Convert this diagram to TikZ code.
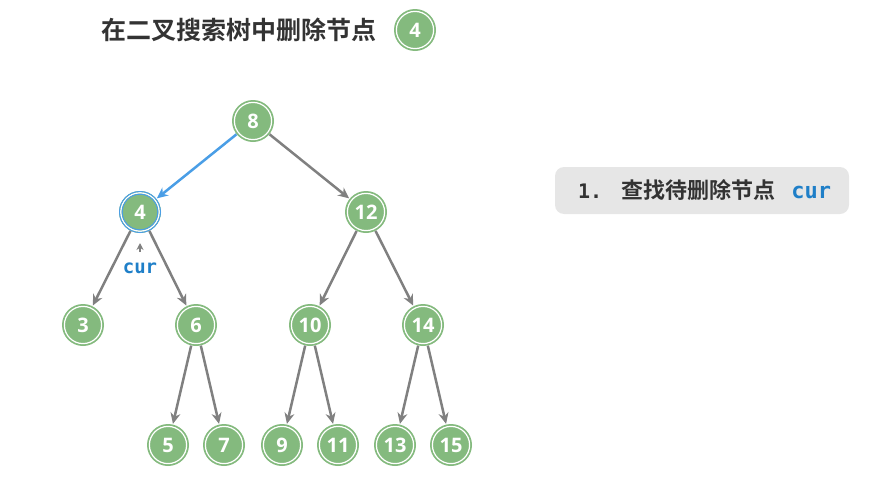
\documentclass[tikz,border=0pt]{standalone}
\usepackage{fontspec}
\setmainfont{Open Sans}
\newfontfamily\cjk{Noto Sans CJK SC}[BoldFont={* Bold}]
\newfontfamily\monob{DejaVu Sans Mono}
\usetikzlibrary{arrows.meta}
\definecolor{ngreen}{HTML}{84BA7E}
\definecolor{nblue}{HTML}{4A9EE6}
\definecolor{curblue}{HTML}{1F7FC8}
\definecolor{egray}{HTML}{808080}
\definecolor{boxgray}{HTML}{E6E6E6}
\definecolor{txtdark}{HTML}{333333}
\tikzset{
  tn/.style={circle, minimum size=42pt, inner sep=0pt, fill=ngreen, text=white,
    font=\bfseries\fontsize{20}{20}\selectfont,
    path picture={\draw[white,line width=1.2pt] (path picture bounding box.center) circle (18.6pt);}},
  hl/.style={tn, path picture={
      \draw[white,line width=1.4pt] (path picture bounding box.center) circle (19.2pt);
      \draw[nblue,line width=1pt] (path picture bounding box.center) circle (17.8pt);
      \draw[nblue,line width=1.6pt] (path picture bounding box.center) circle (20.8pt);}},
  edge/.style={draw=egray, line width=2.5pt, -{Stealth[length=11pt,width=10pt]}, shorten >=0.5pt},
  bedge/.style={edge, draw=nblue},
}
\begin{document}
\begin{tikzpicture}[x=1pt,y=-1pt]
\useasboundingbox (0,0) rectangle (889,482);
% title
\node[anchor=west, text=txtdark, font=\cjk\bfseries\fontsize{25}{25}\selectfont, inner sep=0pt] (title) at (101,30) {在二叉搜索树中删除节点};
\node[tn] (t4) at (415,30) {4};
% tree
\node[tn] (n8) at (253,121) {8};
\node[hl] (n4) at (140,212) {4};
\node[tn] (n12) at (366,212) {12};
\node[tn] (n3) at (83,325) {3};
\node[tn] (n6) at (196,325) {6};
\node[tn] (n10) at (310,325) {10};
\node[tn] (n14) at (423,325) {14};
\node[tn] (n5) at (168,445) {5};
\node[tn] (n7) at (224,445) {7};
\node[tn] (n9) at (282,445) {9};
\node[tn] (n11) at (338,445) {11};
\node[tn] (n13) at (395,445) {13};
\node[tn] (n15) at (451,445) {15};
\draw[bedge] (n8) -- (n4);
\draw[edge] (n8) -- (n12);
\draw[edge] (n4) -- (n3);
\draw[edge] (n4) -- (n6);
\draw[edge] (n12) -- (n10);
\draw[edge] (n12) -- (n14);
\draw[edge] (n6) -- (n5);
\draw[edge] (n6) -- (n7);
\draw[edge] (n10) -- (n9);
\draw[edge] (n10) -- (n11);
\draw[edge] (n14) -- (n13);
\draw[edge] (n14) -- (n15);
% cur label
\node[text=curblue, font=\monob\bfseries\fontsize{19}{19}\selectfont, inner sep=0pt] (cur) at (140,268) {cur};
\coordinate (ctip) at (140,243);
\coordinate (cbase) at (140,252);
\draw[draw=egray, line width=1.2pt, -{Stealth[length=7pt,width=7pt]}] (cbase) -- (ctip);
% step box
\node[fill=boxgray, rounded corners=9pt, minimum width=294pt, minimum height=47pt, inner sep=0pt] (box) at (702,190.5) {};
\node[anchor=west, inner sep=0pt, text=txtdark] (steptxt) at (578,190.5)
  {{\monob\bfseries\fontsize{20}{20}\selectfont 1.}\hspace{19pt}{\cjk\bfseries\fontsize{22}{22}\selectfont 查找待删除节点}\hspace{16pt}{\monob\bfseries\fontsize{22}{22}\selectfont\color{curblue}cur}};
\end{tikzpicture}
\end{document}
